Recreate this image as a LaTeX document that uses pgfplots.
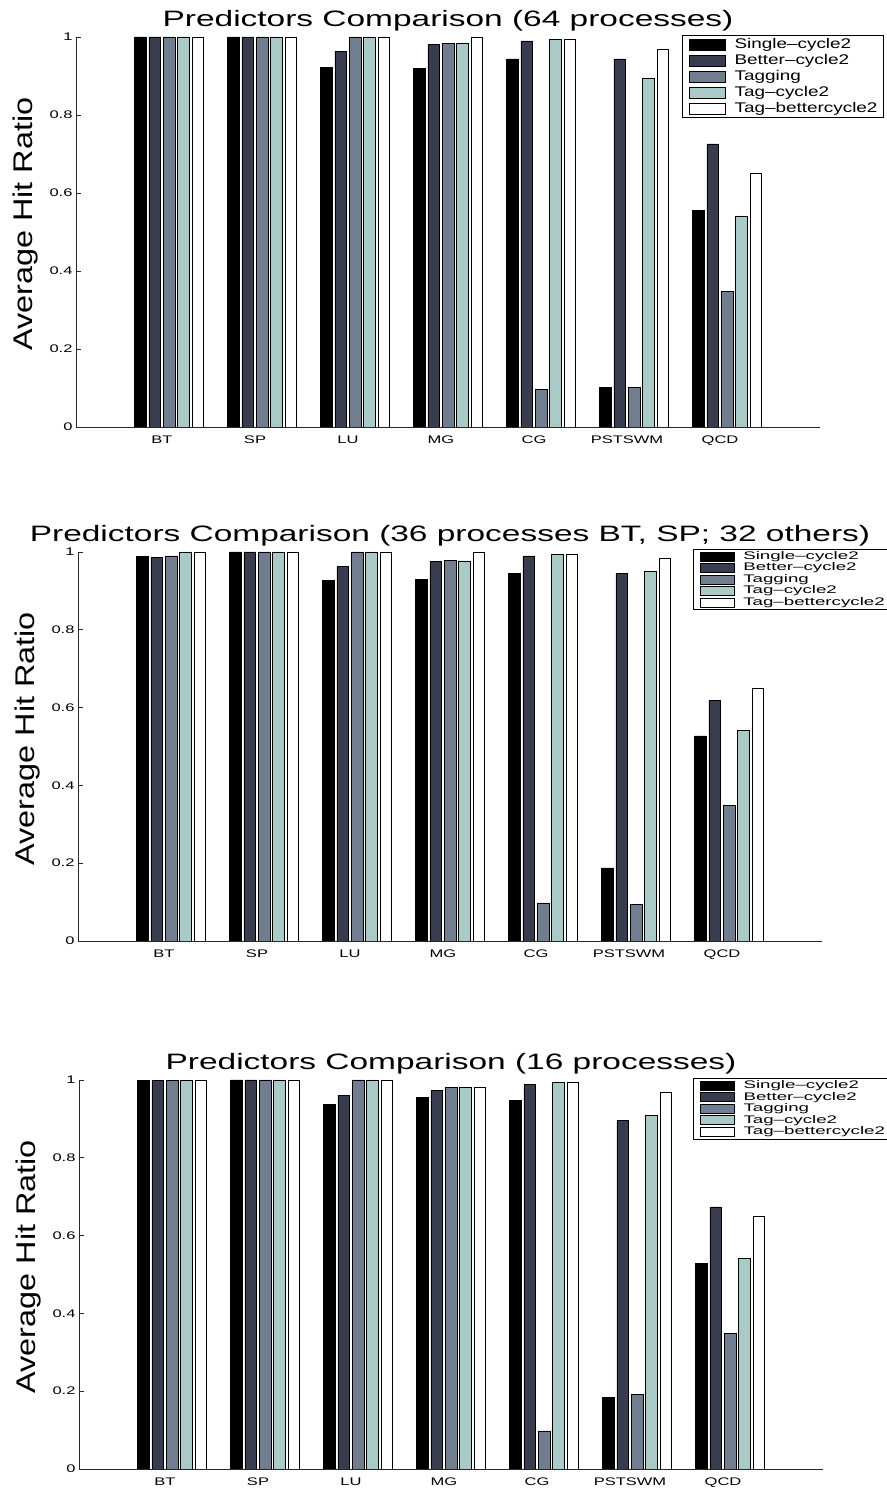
\documentclass[border=0pt]{standalone}
\usepackage{fontspec}
\setmainfont{Liberation Sans}[FakeStretch=1.5]
\newfontfamily\ylabfont{Liberation Sans}[FakeStretch=1.2, Ligatures=TeX]
\newfontfamily\legfontA{Liberation Sans}[FakeStretch=1.35, Ligatures=TeX]
\newfontfamily\legfontB{Liberation Sans}[FakeStretch=1.7, Ligatures=TeX]
\usepackage{pgfplots}
\usepackage{pgfplotstable}
\pgfplotsset{compat=1.18}

\definecolor{cBetter}{RGB}{57,59,79}
\definecolor{cTag}{RGB}{112,126,143}
\definecolor{cTagCyc}{RGB}{170,202,200}
\definecolor{axisgray}{RGB}{40,40,40}

% columns: benchmark index, Single-cycle2, Better-cycle2, Tagging, Tag-cycle2, Tag-bettercycle2
\pgfplotstableread{
x s b t tc tb
1 1.000 1.000 1.000 1.000 0.999
2 1.000 1.000 1.000 1.000 1.000
3 0.921 0.964 1.000 1.000 1.000
4 0.920 0.981 0.983 0.983 0.999
5 0.944 0.990 0.097 0.993 0.993
6 0.102 0.944 0.102 0.895 0.968
7 0.556 0.726 0.348 0.541 0.650
}\dataA

\pgfplotstableread{
x s b t tc tb
1 0.988 0.987 0.990 1.000 1.000
2 1.000 1.000 1.000 1.000 1.000
3 0.926 0.962 1.000 1.000 1.000
4 0.929 0.976 0.978 0.977 0.998
5 0.944 0.990 0.098 0.993 0.993
6 0.188 0.945 0.094 0.950 0.983
7 0.527 0.618 0.348 0.541 0.649
}\dataB

\pgfplotstableread{
x s b t tc tb
1 0.998 0.998 0.998 0.998 0.998
2 1.000 1.000 1.000 1.000 1.000
3 0.937 0.961 1.000 1.000 1.000
4 0.955 0.974 0.980 0.980 0.980
5 0.947 0.988 0.098 0.994 0.994
6 0.184 0.897 0.192 0.909 0.968
7 0.528 0.674 0.348 0.542 0.650
}\dataC

\pgfplotsset{
  hitratio/.style={
    scale only axis, width=744pt,
    xmin=0, xmax=8, ymin=0, ymax=1,
    axis x line*=bottom, axis y line*=left,
    axis line style={axisgray, line width=0.8pt, -},
    xtick={1,2,3,4,5,6,7},
    xticklabels={BT,SP,LU,MG,CG,PSTSWM,QCD},
    x tick style={draw=none},
    xticklabel style={xshift=-7pt},
    ytick={0,0.2,0.4,0.6,0.8,1},
    y tick style={axisgray, line width=0.8pt},
    major tick length=5pt,
    tick align=inside,
    tick label style={font=\fontsize{11}{11}\selectfont},
    /pgf/number format/assume math mode=true,
    ylabel={Average Hit Ratio},
    ylabel style={font=\ylabfont\fontsize{27}{27}\selectfont,
      at={(axis description cs:-0.0685,0.52)}, anchor=center},
    title style={font=\fontsize{22.3}{22.3}\selectfont,
      at={(axis description cs:0.5,1)}, anchor=base, yshift=4pt},
    ybar, bar width=0.125,
    legend cell align=left,
    legend style={draw=black, line width=1pt, fill=white,
      anchor=north east, inner xsep=6pt, inner ysep=2pt},
  },
  % legend swatch: width, half height, gap before the text
  swatch/.style n args={3}{
    legend image code/.code={
      \draw[##1, draw=black, line width=0.7pt] (0pt,-#2) rectangle (#1,#2);
      \path (#1+#3,0pt);}
  },
  legA/.style={legend style={font=\legfontA\fontsize{14}{14}\selectfont,
      row sep=2pt, nodes={inner sep=0pt, text height=10.5pt, text depth=3.5pt}},
    swatch={36pt}{5.5pt}{9pt}},
  legB/.style={legend style={font=\legfontB\fontsize{11}{11}\selectfont,
      row sep=1pt, nodes={inner sep=0pt, text height=8pt, text depth=2.5pt}},
    swatch={34pt}{4.5pt}{9pt}},
  pSingle/.style={fill=black, draw=black, line width=0.6pt, bar shift=-0.3077},
  pBetter/.style={fill=cBetter, draw=black, line width=0.6pt, bar shift=-0.1538},
  pTag/.style={fill=cTag, draw=black, line width=0.6pt, bar shift=0},
  pTagCyc/.style={fill=cTagCyc, draw=black, line width=0.6pt, bar shift=0.1538},
  pTagBet/.style={fill=white, draw=black, line width=0.6pt, bar shift=0.3077},
}

\begin{document}
\begin{tikzpicture}
\useasboundingbox (0,0) rectangle (886pt,1490pt);

% 64 processes
\begin{axis}[hitratio, height=390pt, at={(76pt,1063pt)}, anchor=south west,
  title={Predictors Comparison (64 processes)},
  legA, legend style={at={(axis description cs:1.086,1.005)}}]
  \addplot[pSingle]  table[x=x,y=s]{\dataA};
  \addplot[pBetter]  table[x=x,y=b]{\dataA};
  \addplot[pTag]     table[x=x,y=t]{\dataA};
  \addplot[pTagCyc]  table[x=x,y=tc]{\dataA};
  \addplot[pTagBet]  table[x=x,y=tb]{\dataA};
  \legend{Single–cycle2,Better–cycle2,Tagging,Tag–cycle2,Tag–bettercycle2}
\end{axis}

% 36 processes for BT and SP, 32 for the others
\begin{axis}[hitratio, height=389pt, at={(78pt,549pt)}, anchor=south west,
  title={Predictors Comparison (36 processes BT, SP; 32 others)},
  legB, legend style={at={(axis description cs:1.093,1.008)}}]
  \addplot[pSingle]  table[x=x,y=s]{\dataB};
  \addplot[pBetter]  table[x=x,y=b]{\dataB};
  \addplot[pTag]     table[x=x,y=t]{\dataB};
  \addplot[pTagCyc]  table[x=x,y=tc]{\dataB};
  \addplot[pTagBet]  table[x=x,y=tb]{\dataB};
  \legend{Single–cycle2,Better–cycle2,Tagging,Tag–cycle2,Tag–bettercycle2}
\end{axis}

% 16 processes
\begin{axis}[hitratio, height=389pt, at={(79pt,21pt)}, anchor=south west,
  title={Predictors Comparison (16 processes)},
  legB, legend style={at={(axis description cs:1.092,1.005)}}]
  \addplot[pSingle]  table[x=x,y=s]{\dataC};
  \addplot[pBetter]  table[x=x,y=b]{\dataC};
  \addplot[pTag]     table[x=x,y=t]{\dataC};
  \addplot[pTagCyc]  table[x=x,y=tc]{\dataC};
  \addplot[pTagBet]  table[x=x,y=tb]{\dataC};
  \legend{Single–cycle2,Better–cycle2,Tagging,Tag–cycle2,Tag–bettercycle2}
\end{axis}
\end{tikzpicture}
\end{document}
